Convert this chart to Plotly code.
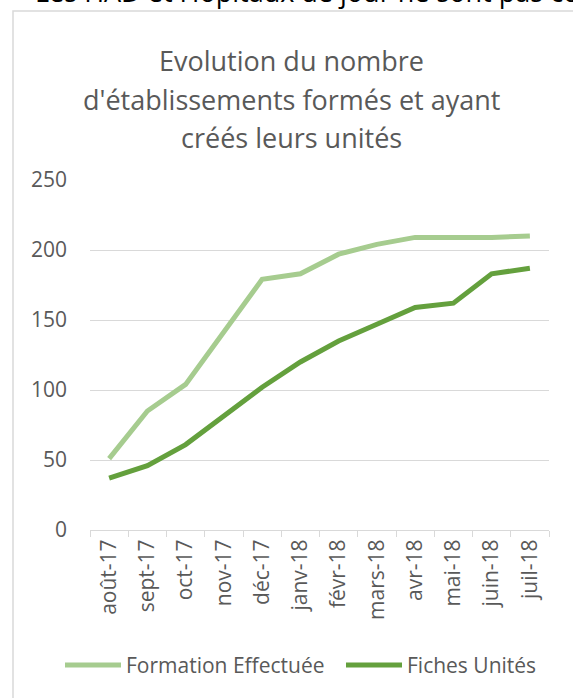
import plotly.graph_objects as go

months = ["août-17", "sept-17", "oct-17", "nov-17", "déc-17", "janv-18",
          "févr-18", "mars-18", "avr-18", "mai-18", "juin-18", "juil-18"]
formation = [51, 85, 104, 142, 179, 183, 197, 204, 209, 209, 209, 210]
fiches = [37, 46, 61, 81, 102, 120, 135, 147, 159, 162, 183, 187]
y_ticks = [0, 50, 100, 150, 200, 250]
series_names = ["Formation Effectuée", "Fiches Unités"]
series_colors = ["#A6CC8F", "#64A03D"]
title_lines = ["Evolution du nombre", "d'établissements formés et ayant", "créés leurs unités"]

FONT = "Open Sans"
GRAY = "#595959"

fig = go.Figure()
for name, vals, col in zip(series_names, [formation, fiches], series_colors):
    fig.add_trace(go.Scatter(x=months, y=vals, mode="lines", name=name,
                             line=dict(color=col, width=5), showlegend=False))

L, R, T, B = 90, 24, 180, 168
W, H = 573, 698
pw, ph = W - L - R, H - T - B

def px(x):
    return (x - L) / pw

def py(y):
    return (H - B - y) / ph

shapes = [dict(type="rect", xref="paper", yref="paper",
               x0=px(13), x1=px(600), y0=py(740), y1=py(11),
               line=dict(color="#d9d9d9", width=1.5), fillcolor="rgba(0,0,0,0)", layer="below")]
annotations = [
    dict(text="Les HAD et Hôpitaux de jour ne sont pas comptabilisés",
         xref="paper", yref="paper", x=px(33), y=py(-9), xanchor="left", yanchor="middle",
         showarrow=False, font=dict(size=27, color="#000000", family=FONT)),
]
for line, cy in zip(title_lines, [60, 100, 138]):
    annotations.append(dict(text=line, xref="paper", yref="paper", x=px(291), y=py(cy),
                            xanchor="center", yanchor="middle", showarrow=False,
                            font=dict(size=27, color=GRAY, family=FONT)))

# legend (drawn manually to match the original layout)
legend_x = [65, 346]
LEG_Y = 665
for name, col, lx in zip(series_names, series_colors, legend_x):
    shapes.append(dict(type="line", xref="paper", yref="paper",
                       x0=px(lx), x1=px(lx + 56), y0=py(LEG_Y), y1=py(LEG_Y),
                       line=dict(color=col, width=5)))
    annotations.append(dict(text=name, xref="paper", yref="paper", x=px(lx + 59), y=py(LEG_Y),
                            xanchor="left", yanchor="middle", showarrow=False,
                            font=dict(size=21, color=GRAY, family=FONT)))

fig.update_layout(
    width=W, height=H,
    margin=dict(l=L, r=R, t=T, b=B),
    paper_bgcolor="white", plot_bgcolor="white",
    font=dict(family=FONT, color=GRAY, size=21),
    showlegend=False,
    xaxis=dict(type="category", showgrid=False, showline=True, linecolor="#d9d9d9", linewidth=1,
               ticks="outside", tickson="boundaries", ticklen=6, tickcolor="#d9d9d9",
               tickangle=-90, tickfont=dict(size=21, color=GRAY), range=[-0.5, 11.5]),
    yaxis=dict(range=[0, 250], tickvals=y_ticks, showgrid=True, gridcolor="#d9d9d9", gridwidth=1,
               zeroline=False, showline=False, ticks="", ticklabelstandoff=22,
               tickfont=dict(size=21, color=GRAY)),
    shapes=shapes,
    annotations=annotations,
)

fig.write_html("out.html", config={"displayModeBar": False},
               post_script="document.body.style.margin='0';")
